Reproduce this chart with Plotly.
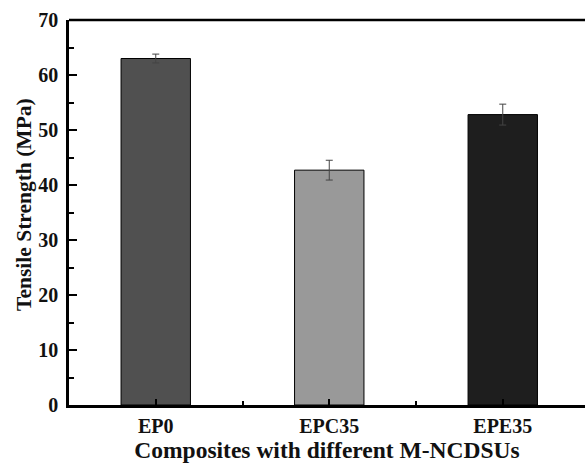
import plotly.graph_objects as go

# Tensile strength of the composites
categories = ["EP0", "EPC35", "EPE35"]
strength = [63.0, 42.7, 52.8]
strength_err = [0.8, 1.8, 1.9]
bar_colors = ["#505050", "#999999", "#1e1e1e"]

font_family = "Liberation Serif"

fig = go.Figure()
fig.add_trace(go.Bar(
    x=list(range(len(categories))),
    y=strength,
    width=0.4,
    marker=dict(color=bar_colors, line=dict(color="#000000", width=1)),
    error_y=dict(type="data", array=strength_err, visible=True,
                 color="#444444", thickness=1, width=3.5),
))

fig.update_layout(
    width=585, height=464,
    margin=dict(l=69, r=0, t=20, b=59),
    plot_bgcolor="white", paper_bgcolor="white",
    showlegend=False,
    font=dict(family=font_family, color="#111111", size=20),
    xaxis=dict(
        range=[-0.5, 2.474],
        tickmode="array", tickvals=list(range(len(categories))), ticktext=categories,
        ticks="inside", ticklen=6, tickwidth=2, tickcolor="#000000",
        minor=dict(tick0=0.5, dtick=1, ticks="inside", ticklen=4, tickwidth=2,
                   tickcolor="#000000", showgrid=False),
        showline=True, linecolor="#000000", linewidth=2.5, mirror=False,
        showgrid=False, zeroline=False,
        ticklabelstandoff=1,
        tickfont=dict(family=font_family, size=20, weight="bold"),
        title=dict(text="<b>Composites with different M-NCDSUs</b>",
                   font=dict(family=font_family, size=23.5), standoff=6),
    ),
    yaxis=dict(
        range=[0, 70], dtick=10, tick0=0,
        ticks="inside", ticklen=8, tickwidth=2, tickcolor="#000000",
        minor=dict(dtick=5, ticks="inside", ticklen=5, tickwidth=2,
                   tickcolor="#000000", showgrid=False),
        showline=True, linecolor="#000000", linewidth=2.5, mirror=False,
        showgrid=False, zeroline=False,
        ticklabelstandoff=4,
        tickfont=dict(family=font_family, size=20, weight="bold"),
    ),
    shapes=[
        # top frame line
        dict(type="line", xref="paper", yref="paper", x0=0, x1=1, y0=1, y1=1,
             line=dict(color="#000000", width=2.5)),
    ],
    annotations=[dict(
        text="<b>Tensile Strength (MPa)</b>",
        xref="paper", yref="paper", x=-0.087, y=0.52,
        xanchor="center", yanchor="middle", textangle=-90, showarrow=False,
        font=dict(family=font_family, size=21.5, color="#111111"),
    )],
)

fig.write_html("out.html")
